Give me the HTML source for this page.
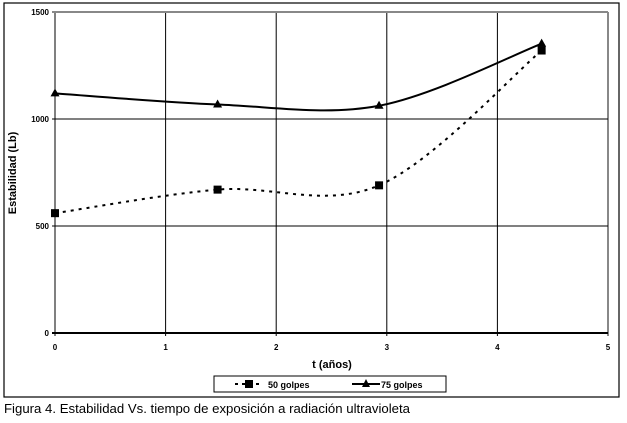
<!DOCTYPE html>
<html><head><meta charset="utf-8"><style>
body{margin:0;background:#fff;width:627px;height:418px;overflow:hidden}
svg text{font-family:"Liberation Sans",sans-serif}
</style></head><body>
<svg id="c" width="627" height="418" xmlns="http://www.w3.org/2000/svg">
<rect x="4" y="3" width="615" height="394" fill="#fff" stroke="#000" stroke-width="1.2"/>
<g id="grid"></g>
<g id="series"></g>
<text x="16" y="173" transform="rotate(-90 16 173)" text-anchor="middle" font-size="11" font-weight="bold">Estabilidad (Lb)</text>
<text x="332" y="368" text-anchor="middle" font-size="11" font-weight="bold">t (años)</text>
<g>
<rect x="214" y="376" width="232" height="16" fill="#fff" stroke="#000"/>
<g>
<line x1="235" y1="384" x2="262" y2="384" stroke="#000" stroke-width="2" stroke-dasharray="3,4"/>
<rect x="245" y="380" width="8" height="8" fill="#000"/>
<text x="268" y="388" font-size="9" font-weight="bold">50 golpes</text></g>
<g>
<line x1="352" y1="384" x2="380" y2="384" stroke="#000" stroke-width="2"/>
<polygon points="366,379 370,387 362,387" fill="#000"/>
<text x="381" y="388" font-size="9" font-weight="bold">75 golpes</text></g>
</g>
<text x="4" y="413" font-size="12.5" font-family="Liberation Sans Narrow, Liberation Sans, sans-serif" textLength="406" lengthAdjust="spacingAndGlyphs">Figura 4. Estabilidad Vs. tiempo de exposición a radiación ultravioleta</text>
</svg>
<script>
const xTicks=[0,1,2,3,4,5];
const yTicks=[0,500,1000,1500];
const tYears=[0,1.47,2.93,4.4];
const golpes50=[560,670,690,1320];
const golpes75=[1120,1068,1062,1352];
const X=v=>55+v*(608-55)/5;
const Y=v=>333-v*(333-12)/1500;
const NS='http://www.w3.org/2000/svg';
function mk(t,a,p){const e=document.createElementNS(NS,t);for(const k in a)e.setAttribute(k,a[k]);p.appendChild(e);return e;}
const g=document.getElementById('grid');
xTicks.forEach(t=>{
 const l=mk('line',{x1:X(t),x2:X(t),y1:Y(1500),y2:Y(0)+3,stroke:t==5?'#888':'#000','stroke-width':t==5?2:1},g);
 
 
 const tx=mk('text',{x:X(t),y:350,'text-anchor':'middle','font-size':8,'font-weight':'bold'},g);tx.textContent=t;
 
 
});
yTicks.forEach(t=>{
 const l=mk('line',{x1:X(0)-3,x2:X(5),y1:Y(t),y2:Y(t),stroke:t==1500?'#888':'#000','stroke-width':t==1500||t==0?2:1},g);
 
 
 const tx=mk('text',{x:49,y:Y(t)+3,'text-anchor':'end','font-size':8,'font-weight':'bold'},g);tx.textContent=t;
 
 
});
function path(vals){
 const p=tYears.map((t,i)=>[X(t),Y(vals[i])]);
 let d='M'+p[0][0]+','+p[0][1];
 for(let i=0;i<p.length-1;i++){
  const p0=p[i-1]||p[i],p1=p[i],p2=p[i+1],p3=p[i+2]||p[i+1];
  d+=' C'+(p1[0]+(p2[0]-p0[0])/6)+','+(p1[1]+(p2[1]-p0[1])/6)+' '+(p2[0]-(p3[0]-p1[0])/6)+','+(p2[1]-(p3[1]-p1[1])/6)+' '+p2[0]+','+p2[1];
 }
 return d;
}
const s=document.getElementById('series');
const l50=mk('path',{d:path(golpes50),fill:'none',stroke:'#000','stroke-width':2,'stroke-dasharray':'3,5'},s);


const l75=mk('path',{d:path(golpes75),fill:'none',stroke:'#000','stroke-width':2},s);


tYears.forEach((t,i)=>{
 const r=mk('rect',{x:X(t)-4,y:Y(golpes50[i])-4,width:8,height:8,fill:'#000'},s);
 
 
 const x=X(t),y=Y(golpes75[i]);
 const p=mk('polygon',{points:`${x},${y-5} ${x+4.5},${y+3} ${x-4.5},${y+3}`,fill:'#000'},s);
 
 
});
</script>
</body></html>
